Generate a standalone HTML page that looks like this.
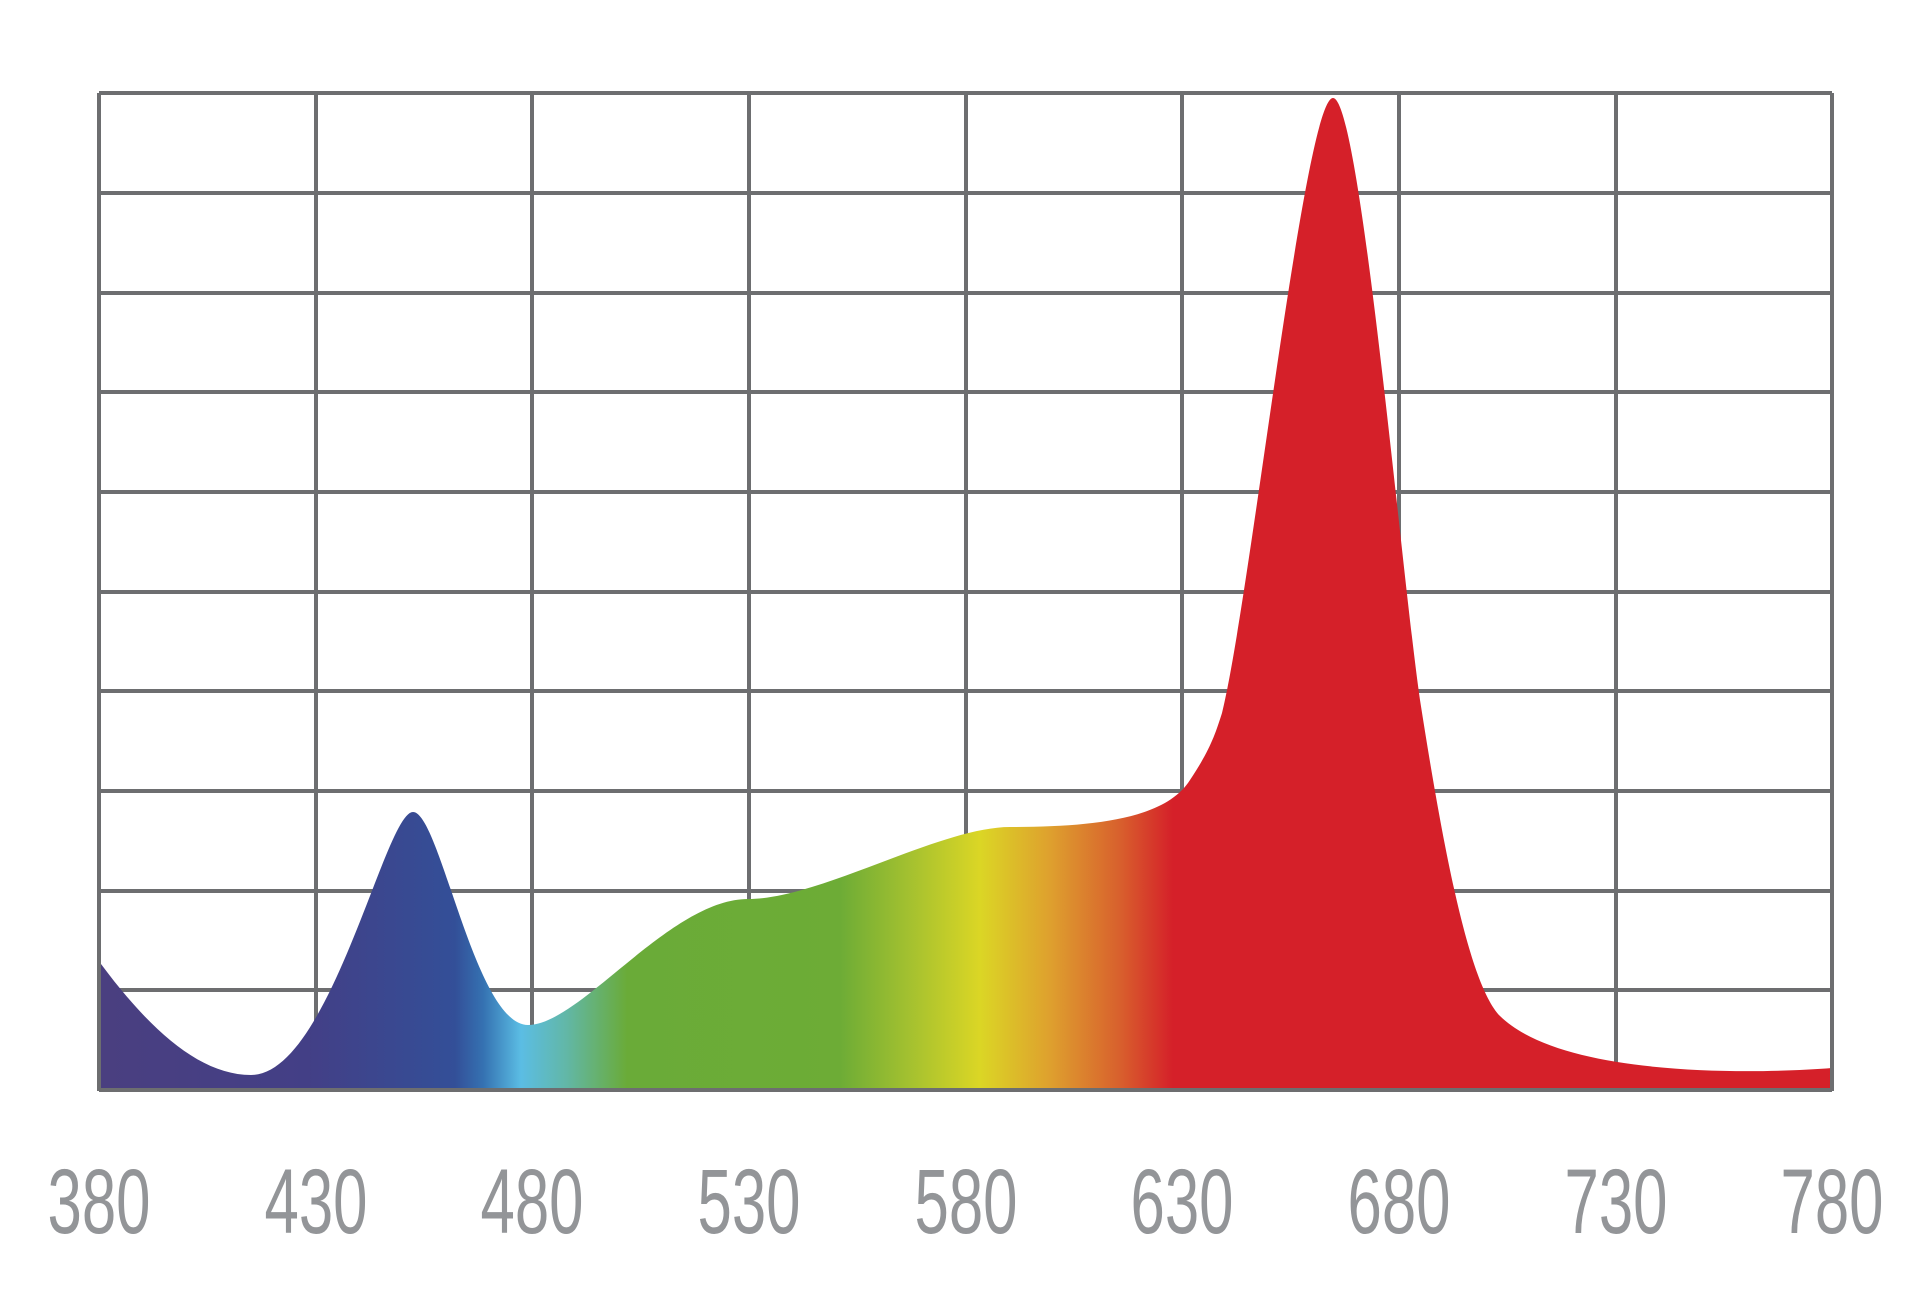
<!DOCTYPE html>
<html><head><meta charset="utf-8"><style>html,body{margin:0;padding:0;background:#fff;}svg{display:block}</style></head>
<body>
<svg width="1920" height="1291" viewBox="0 0 1920 1291" xmlns="http://www.w3.org/2000/svg">
<defs>
<linearGradient id="g" x1="99" y1="0" x2="1832" y2="0" gradientUnits="userSpaceOnUse">
<stop offset="0" stop-color="#4a3f80"/>
<stop offset="0.12" stop-color="#433f86"/>
<stop offset="0.2054" stop-color="#334f98"/>
<stop offset="0.222" stop-color="#3572b2"/>
<stop offset="0.2435" stop-color="#5bbde4"/>
<stop offset="0.27" stop-color="#62b7a6"/>
<stop offset="0.3047" stop-color="#6aab38"/>
<stop offset="0.4276" stop-color="#6dac36"/>
<stop offset="0.47" stop-color="#a7c22f"/>
<stop offset="0.5084" stop-color="#dbd625"/>
<stop offset="0.5488" stop-color="#dea02e"/>
<stop offset="0.589" stop-color="#d8602d"/>
<stop offset="0.6197" stop-color="#d52029"/>
<stop offset="1" stop-color="#d52029"/>
</linearGradient>
</defs>
<g stroke="#6d6e70" stroke-width="4" fill="none">
<path d="M99,93 H1832 M99,193 H1832 M99,293 H1832 M99,392 H1832 M99,492 H1832 M99,592 H1832 M99,691 H1832 M99,791 H1832 M99,891 H1832 M99,990 H1832" />
<path d="M316,93 V1091 M532,93 V1091 M749,93 V1091 M966,93 V1091 M1182,93 V1091 M1399,93 V1091 M1616,93 V1091"/>
</g>
<path fill="url(#g)" d="M101,964
C150,1030 200,1075 251,1075
C330,1075 385,812 413,812
C440,812 475,1025 528,1025
C580,1025 670,899 748,899
C820,899 940,827 1010,827
C1090,827 1165,820 1190,780
C1210,750 1215,735 1222,713
C1250,600 1305,98 1333,98
C1360,98 1400,560 1420,700
C1445,860 1470,985 1500,1016
C1560,1075 1740,1075 1832,1068
L1832,1091 L101,1091 Z"/>
<g stroke="#6d6e70" stroke-width="4" fill="none">
<path d="M99,1090 H1832 M99,93 V1091 M1832,93 V1091"/>
</g>
<g fill="#939598" font-family="Liberation Sans, sans-serif" font-size="92" text-anchor="middle">
<text x="99" y="1233" textLength="103" lengthAdjust="spacingAndGlyphs">380</text>
<text x="316" y="1233" textLength="103" lengthAdjust="spacingAndGlyphs">430</text>
<text x="532" y="1233" textLength="103" lengthAdjust="spacingAndGlyphs">480</text>
<text x="749" y="1233" textLength="103" lengthAdjust="spacingAndGlyphs">530</text>
<text x="966" y="1233" textLength="103" lengthAdjust="spacingAndGlyphs">580</text>
<text x="1182" y="1233" textLength="103" lengthAdjust="spacingAndGlyphs">630</text>
<text x="1399" y="1233" textLength="103" lengthAdjust="spacingAndGlyphs">680</text>
<text x="1616" y="1233" textLength="103" lengthAdjust="spacingAndGlyphs">730</text>
<text x="1832" y="1233" textLength="103" lengthAdjust="spacingAndGlyphs">780</text>
</g>
</svg>
</body></html>
